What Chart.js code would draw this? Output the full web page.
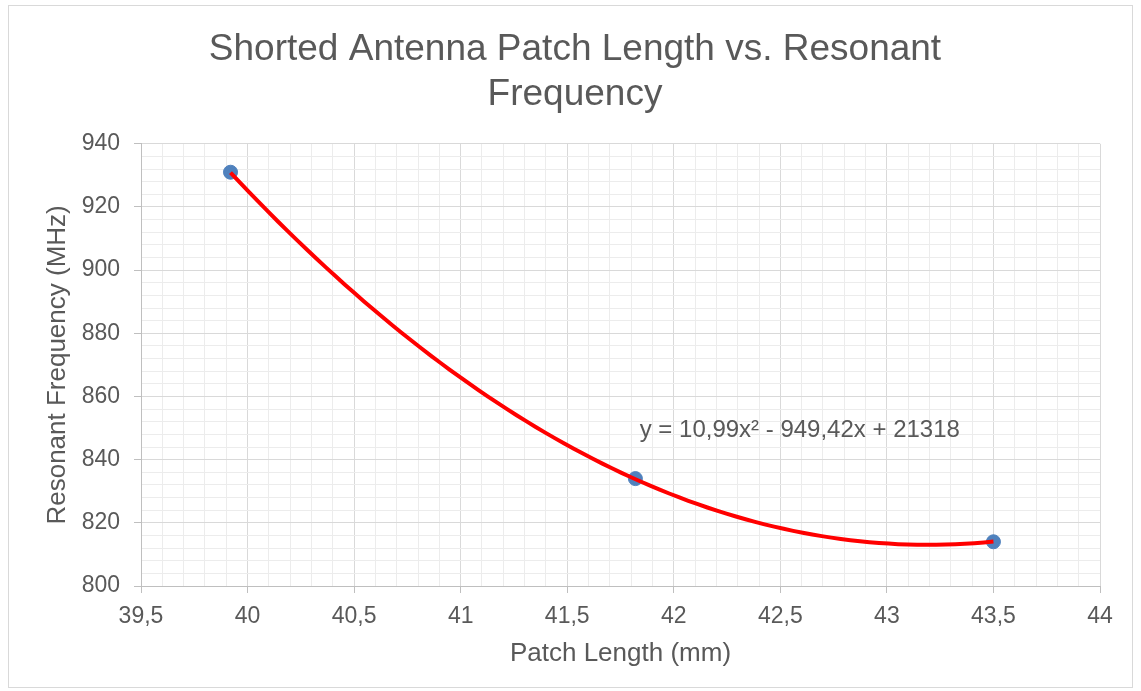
<!DOCTYPE html>
<html>
<head>
<meta charset="utf-8">
<script src="https://cdn.jsdelivr.net/npm/chart.js@4.4.1/dist/chart.umd.min.js"></script>
<style>
  html, body { margin: 0; padding: 0; background: #fff; }
  #wrap { width: 1141px; height: 691px; position: relative; }
</style>
</head>
<body>
<div id="wrap"><canvas id="chart"></canvas></div>
<script>
// measured patch lengths (mm) and resonant frequencies (MHz)
const patchLength = [39.92, 41.82, 43.5];
const resonantFreq = [931, 834, 814];

// 2nd order polynomial trendline: a*x^2 + b*x + c
const trendCoeffs = [10.99, -949.42, 21318];

// major tick values on each axis
const xMajorTicks = [39.5, 40, 40.5, 41, 41.5, 42, 42.5, 43, 43.5, 44];
const yMajorTicks = [800, 820, 840, 860, 880, 900, 920, 940];
const minorDivisions = 5;

const textColor = '#595959';
const fontFamily = "'Liberation Sans', Arial, sans-serif";

function withMinors(majors) {
    const out = [];
    for (let i = 0; i < majors.length - 1; i++) {
        const step = (majors[i + 1] - majors[i]) / minorDivisions;
        for (let j = 0; j < minorDivisions; j++) {
            out.push({ value: majors[i] + j * step, major: j === 0 });
        }
    }
    out.push({ value: majors[majors.length - 1], major: true });
    return out;
}

// decimal comma, as in the source workbook
function formatNum(v) {
    return String(v).replace('.', ',');
}

const trendLine = [];
const trendSteps = 80;
for (let i = 0; i <= trendSteps; i++) {
    const x = patchLength[0] + (patchLength[patchLength.length - 1] - patchLength[0]) * i / trendSteps;
    trendLine.push({ x: x, y: trendCoeffs[0] * x * x + trendCoeffs[1] * x + trendCoeffs[2] });
}

const equationText = 'y = ' + formatNum(trendCoeffs[0]) + 'x² - ' +
    formatNum(Math.abs(trendCoeffs[1])) + 'x + ' + formatNum(trendCoeffs[2]);

const frame = {
    id: 'frame',
    beforeDraw(chart) {
        const ctx = chart.ctx;
        ctx.save();
        ctx.fillStyle = '#ffffff';
        ctx.fillRect(0, 0, chart.width, chart.height);
        ctx.strokeStyle = '#d9d9d9';
        ctx.lineWidth = 1;
        ctx.strokeRect(8.5, 5.5, 1124, 682);
        ctx.restore();
    }
};

const equationLabel = {
    id: 'equationLabel',
    afterDatasetsDraw(chart) {
        const { ctx, scales } = chart;
        ctx.save();
        ctx.font = '24px ' + fontFamily;
        ctx.fillStyle = textColor;
        ctx.textAlign = 'left';
        ctx.textBaseline = 'middle';
        ctx.fillText(equationText, scales.x.getPixelForValue(41.84), scales.y.getPixelForValue(849.4));
        ctx.restore();
    }
};

function gridColor(ctx) {
    return ctx.tick && ctx.tick.major ? '#d9d9d9' : '#ececec';
}
function tickMarkColor(ctx) {
    return ctx.tick && ctx.tick.major ? '#bfbfbf' : 'rgba(0,0,0,0)';
}

new Chart(document.getElementById('chart'), {
    type: 'scatter',
    data: {
        datasets: [
            {
                label: 'Trendline',
                data: trendLine,
                showLine: true,
                borderColor: '#ff0000',
                borderWidth: 4,
                pointRadius: 0,
                tension: 0,
                order: 0
            },
            {
                label: 'Resonant Frequency',
                data: patchLength.map((x, i) => ({ x: x, y: resonantFreq[i] })),
                backgroundColor: '#4f81bd',
                borderColor: '#4f81bd',
                pointRadius: 7,
                order: 1
            }
        ]
    },
    options: {
        responsive: true,
        maintainAspectRatio: false,
        animation: false,
        layout: { padding: { top: 0, left: 50, right: 41, bottom: 10 } },
        plugins: {
            legend: { display: false },
            tooltip: { enabled: false },
            title: {
                display: true,
                text: ['Shorted Antenna Patch Length vs. Resonant', 'Frequency'],
                color: textColor,
                font: { family: fontFamily, size: 37, weight: 'normal', lineHeight: 1.2 },
                padding: { top: 28, bottom: 27 }
            }
        },
        scales: {
            x: {
                type: 'linear',
                min: xMajorTicks[0],
                max: xMajorTicks[xMajorTicks.length - 1],
                afterBuildTicks(scale) { scale.ticks = withMinors(xMajorTicks); },
                afterFit(scale) { scale.height = 95; },
                border: { color: '#bfbfbf', width: 1 },
                grid: { color: gridColor, tickColor: tickMarkColor, tickLength: 7, lineWidth: 1 },
                ticks: {
                    autoSkip: false,
                    maxRotation: 0,
                    minRotation: 0,
                    padding: 10,
                    color: textColor,
                    font: { family: fontFamily, size: 23 },
                    callback(value, index, ticks) { return ticks[index].major ? formatNum(value) : ''; }
                },
                title: {
                    display: true,
                    text: 'Patch Length (mm)',
                    color: textColor,
                    font: { family: fontFamily, size: 26, lineHeight: 1.2 },
                    padding: { top: 0, bottom: 12 }
                }
            },
            y: {
                type: 'linear',
                min: yMajorTicks[0],
                max: yMajorTicks[yMajorTicks.length - 1],
                afterBuildTicks(scale) { scale.ticks = withMinors(yMajorTicks); },
                afterFit(scale) { scale.width = 91; },
                border: { color: '#bfbfbf', width: 1 },
                grid: { color: gridColor, tickColor: tickMarkColor, tickLength: 7, lineWidth: 1 },
                ticks: {
                    autoSkip: false,
                    padding: 14,
                    color: textColor,
                    font: { family: fontFamily, size: 23 },
                    callback(value, index, ticks) { return ticks[index].major ? String(value) : ''; }
                },
                title: {
                    display: true,
                    text: 'Resonant Frequency (MHz)',
                    color: textColor,
                    font: { family: fontFamily, size: 26, lineHeight: 1.2 },
                    padding: { top: -8, bottom: 0 }
                }
            }
        }
    },
    plugins: [frame, equationLabel]
});
</script>
</body>
</html>
